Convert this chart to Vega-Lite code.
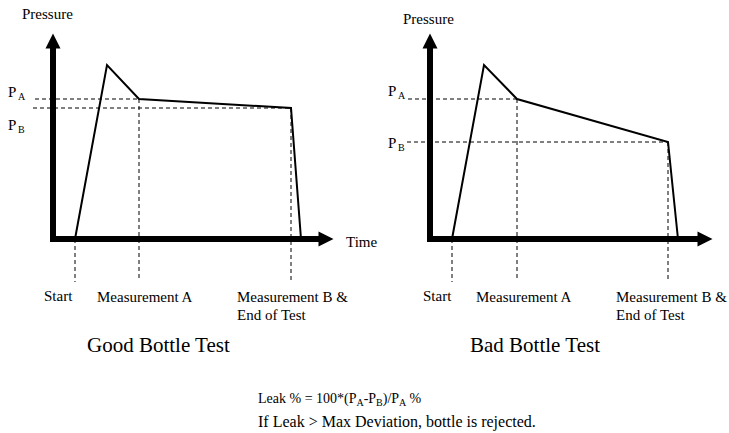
{
  "$schema": "https://vega.github.io/schema/vega-lite/v6.json",
  "autosize": {"type": "fit", "contains": "padding"},
  "width": 729,
  "height": 433,
  "padding": 0,
  "background": "white",
  "config": {"view": {"stroke": null}},
  "datasets": {
    "axes": [
      {"id": "L-y", "o": 1, "t": 53, "p": 191},
      {"id": "L-y", "o": 2, "t": 53, "p": 386},
      {"id": "L-x", "o": 1, "t": 50, "p": 194},
      {"id": "L-x", "o": 2, "t": 320, "p": 194},
      {"id": "R-y", "o": 1, "t": 430, "p": 191},
      {"id": "R-y", "o": 2, "t": 430, "p": 386},
      {"id": "R-x", "o": 1, "t": 427, "p": 194},
      {"id": "R-x", "o": 2, "t": 698, "p": 194}
    ],
    "heads": [
      {"dir": "up", "t": 53, "p": 392},
      {"dir": "right", "t": 326, "p": 194},
      {"dir": "up", "t": 430, "p": 392},
      {"dir": "right", "t": 705, "p": 194}
    ],
    "curves": [
      {"test": "Good", "o": 1, "t": 75, "p": 194},
      {"test": "Good", "o": 2, "t": 107, "p": 368},
      {"test": "Good", "o": 3, "t": 139, "p": 334},
      {"test": "Good", "o": 4, "t": 291, "p": 325},
      {"test": "Good", "o": 5, "t": 301, "p": 194},
      {"test": "Bad", "o": 1, "t": 452, "p": 194},
      {"test": "Bad", "o": 2, "t": 484, "p": 368},
      {"test": "Bad", "o": 3, "t": 517, "p": 334},
      {"test": "Bad", "o": 4, "t": 668, "p": 291},
      {"test": "Bad", "o": 5, "t": 678, "p": 194}
    ],
    "guides": [
      {"t": 35, "p": 334, "t2": 139, "p2": 334},
      {"t": 33, "p": 325, "t2": 291, "p2": 325},
      {"t": 75, "p": 194, "t2": 75, "p2": 151},
      {"t": 139, "p": 334, "t2": 139, "p2": 155},
      {"t": 291, "p": 325, "t2": 291, "p2": 151},
      {"t": 408, "p": 334, "t2": 517, "p2": 334},
      {"t": 407, "p": 291, "t2": 668, "p2": 291},
      {"t": 452, "p": 194, "t2": 452, "p2": 151},
      {"t": 517, "p": 334, "t2": 517, "p2": 155},
      {"t": 668, "p": 291, "t2": 668, "p2": 151}
    ],
    "labels": [
      {"text": "Pressure", "t": 22, "p": 414},
      {"text": "Pressure", "t": 403, "p": 409},
      {"text": "Time", "t": 346, "p": 186},
      {"text": "P", "t": 8, "p": 336},
      {"text": "P", "t": 8, "p": 303},
      {"text": "P", "t": 388, "p": 337},
      {"text": "P", "t": 388, "p": 285},
      {"text": "Start", "t": 44, "p": 132},
      {"text": "Measurement A", "t": 97, "p": 131},
      {"text": "Measurement B &", "t": 237, "p": 131},
      {"text": "End of Test", "t": 237, "p": 113},
      {"text": "Start", "t": 423, "p": 132},
      {"text": "Measurement A", "t": 476, "p": 131},
      {"text": "Measurement B &", "t": 616, "p": 131},
      {"text": "End of Test", "t": 616, "p": 113}
    ],
    "subs": [
      {"text": "A", "t": 18, "p": 333},
      {"text": "B", "t": 18, "p": 300},
      {"text": "A", "t": 398, "p": 334},
      {"text": "B", "t": 398, "p": 282},
      {"text": "A", "t": 356.5, "p": 27},
      {"text": "B", "t": 376.1, "p": 27},
      {"text": "A", "t": 399.1, "p": 27}
    ],
    "titles": [
      {"text": "Good Bottle Test", "t": 87, "p": 81},
      {"text": "Bad Bottle Test", "t": 470, "p": 81}
    ],
    "notes": [
      {"text": "Leak % = 100*(P", "t": 258, "p": 30},
      {"text": "-P", "t": 363.7, "p": 30},
      {"text": ")/P", "t": 382.8, "p": 30},
      {"text": "%", "t": 409.5, "p": 30}
    ],
    "rule": [
      {"text": "If Leak > Max Deviation, bottle is rejected.", "t": 258, "p": 6}
    ]
  },
  "encoding": {
    "x": {"field": "t", "type": "quantitative", "axis": null, "scale": {"domain": [0, 729], "nice": false, "zero": false}},
    "y": {"field": "p", "type": "quantitative", "axis": null, "scale": {"domain": [0, 433], "nice": false, "zero": false}}
  },
  "layer": [
    {
      "data": {"name": "guides"},
      "mark": {"type": "rule", "color": "black", "strokeWidth": 1, "strokeDash": [4, 3]},
      "encoding": {"x2": {"field": "t2"}, "y2": {"field": "p2"}}
    },
    {
      "data": {"name": "curves"},
      "mark": {"type": "line", "color": "black", "strokeWidth": 2, "strokeJoin": "miter"},
      "encoding": {"detail": {"field": "test"}, "order": {"field": "o"}}
    },
    {
      "data": {"name": "axes"},
      "mark": {"type": "line", "color": "black", "strokeWidth": 6, "strokeCap": "butt"},
      "encoding": {"detail": {"field": "id"}, "order": {"field": "o"}}
    },
    {
      "data": {"name": "heads"},
      "mark": {"type": "point", "filled": true, "color": "black", "opacity": 1, "strokeWidth": 0, "size": 225},
      "encoding": {
        "shape": {"field": "dir", "type": "nominal", "legend": null, "scale": {"domain": ["up", "right"], "range": ["M0,-1L1,1L-1,1Z", "M1,0L-1,-1L-1,1Z"]}}
      }
    },
    {
      "data": {"name": "labels"},
      "mark": {"type": "text", "font": "Liberation Serif", "fontSize": 15, "align": "left", "baseline": "alphabetic", "color": "black"},
      "encoding": {"text": {"field": "text"}}
    },
    {
      "data": {"name": "subs"},
      "mark": {"type": "text", "font": "Liberation Serif", "fontSize": 10, "align": "left", "baseline": "alphabetic", "color": "black"},
      "encoding": {"text": {"field": "text"}}
    },
    {
      "data": {"name": "titles"},
      "mark": {"type": "text", "font": "Liberation Serif", "fontSize": 21, "align": "left", "baseline": "alphabetic", "color": "black"},
      "encoding": {"text": {"field": "text"}}
    },
    {
      "data": {"name": "notes"},
      "mark": {"type": "text", "font": "Liberation Serif", "fontSize": 14, "align": "left", "baseline": "alphabetic", "color": "black"},
      "encoding": {"text": {"field": "text"}}
    },
    {
      "data": {"name": "rule"},
      "mark": {"type": "text", "font": "Liberation Serif", "fontSize": 16, "align": "left", "baseline": "alphabetic", "color": "black"},
      "encoding": {"text": {"field": "text"}}
    }
  ]
}
